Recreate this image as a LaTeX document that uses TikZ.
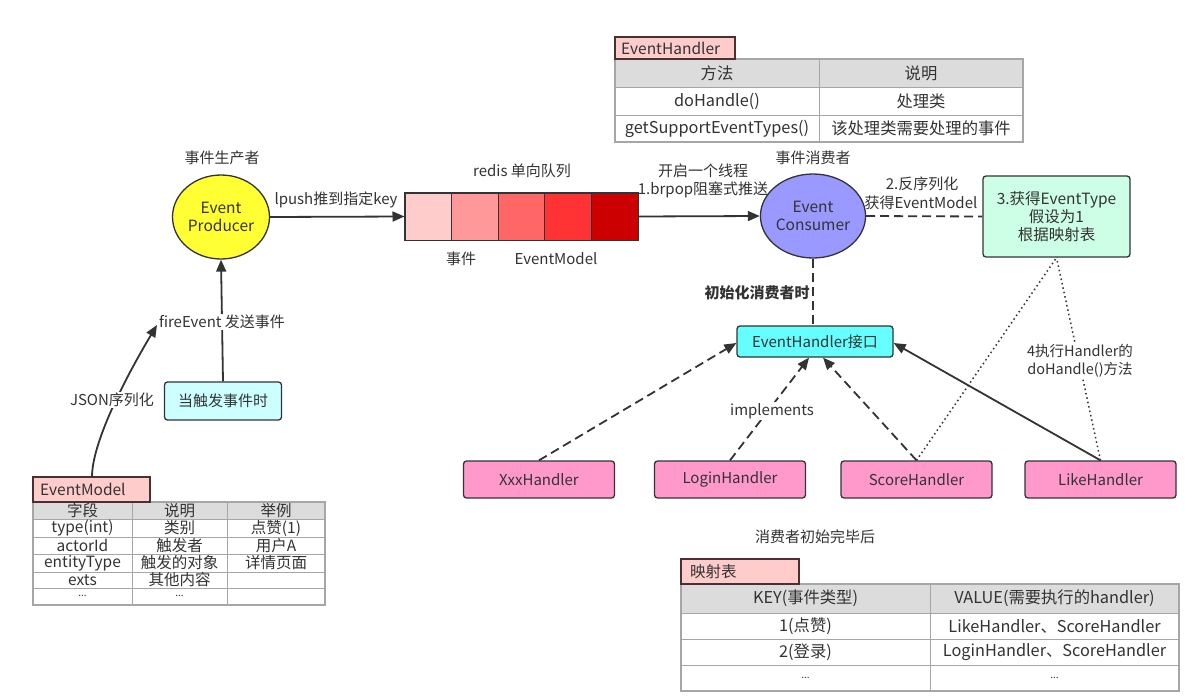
\documentclass[tikz,border=0pt]{standalone}
\usepackage{fontspec}
\setmainfont{Noto Sans CJK SC}
\usetikzlibrary{shapes.geometric,arrows.meta}
\definecolor{txt}{HTML}{333333}
\definecolor{tabpink}{HTML}{FFCCCC}
\definecolor{tabedge}{HTML}{4A3030}
\definecolor{grid}{HTML}{A6A6A6}
\definecolor{hdr}{HTML}{DCDCDC}
\definecolor{prodyel}{HTML}{FFFF33}
\definecolor{consblue}{HTML}{9999FF}
\definecolor{mint}{HTML}{CCFFE6}
\definecolor{cyanbox}{HTML}{66FFFF}
\definecolor{lightcyan}{HTML}{CCFFFF}
\definecolor{hpink}{HTML}{FF99CC}
\definecolor{qa}{HTML}{FFCCCC}
\definecolor{qb}{HTML}{FF9999}
\definecolor{qc}{HTML}{FF6666}
\definecolor{qd}{HTML}{FF3333}
\definecolor{qe}{HTML}{CC0000}
\tikzset{
  lbl/.style={text=txt, inner sep=1pt, align=center},
  wlbl/.style={lbl, fill=white},
  cell/.style={text=txt, inner sep=0pt, font=\fontsize{16.3}{18}\selectfont},
  scell/.style={text=txt, inner sep=0pt, font=\fontsize{15.5}{16}\selectfont},
  tabbox/.style={draw=tabedge, fill=tabpink, line width=1.3pt},
  tabtxt/.style={text=txt, inner sep=0pt, anchor=west, font=\fontsize{15.5}{17}\selectfont},
  outer/.style={draw=grid, line width=1.6pt},
  inner/.style={draw=grid, line width=0.9pt},
  ell/.style={ellipse, draw=txt, line width=1.3pt, minimum width=97, minimum height=84, text=txt, align=center, inner sep=0pt, font=\fontsize{15.5}{18}\selectfont},
  rbox/.style={draw=txt, line width=1.3pt, rounded corners=3pt, text=txt, align=center},
  hbox/.style={rbox, fill=hpink, minimum width=151, minimum height=37},
  qcell/.style={draw=txt, line width=1pt, minimum width=46.6, minimum height=47, inner sep=0pt},
  arr/.style={draw=txt, line width=1.8pt, -{Triangle[length=12pt,width=10pt]}},
  darr/.style={arr, dash pattern=on 9pt off 5pt},
  dln/.style={draw=txt, line width=1.8pt, dash pattern=on 9pt off 5pt},
  dotln/.style={draw=txt, line width=1.5pt, dash pattern=on 1.5pt off 3pt},
}
\begin{document}
\begin{tikzpicture}[x=1pt,y=-1pt, font=\fontsize{15}{17}\selectfont]
\fill[white] (0,0) rectangle (1197,696);
\useasboundingbox (0,0) rectangle (1197,696);

% ---------- EventHandler table ----------
\fill[hdr] (615,59) rectangle (1023,87);
\draw[inner] (615,87) -- (1023,87);
\draw[inner] (615,115) -- (1023,115);
\draw[inner] (819,59) -- (819,142);
\draw[outer] (615,59) rectangle (1023,142);
\draw[tabbox] (615,37) rectangle (735,59);
\node[tabtxt] (ehtab) at (621,48) {EventHandler};
\node[cell] (eh11) at (717,73) {方法};
\node[cell] (eh12) at (921,73) {说明};
\node[cell] (eh21) at (717,101) {doHandle()};
\node[cell] (eh22) at (921,101) {处理类};
\node[cell] (eh31) at (717,128.5) {getSupportEventTypes()};
\node[cell] (eh32) at (921,128.5) {该处理类需要处理的事件};

% ---------- Producer ----------
\node[lbl] (prodlbl) at (222,158) {事件生产者};
\node[ell, fill=prodyel] (prod) at (221,217) {Event\\Producer};

% ---------- Queue ----------
\node[lbl] (qlbl) at (522,171) {redis 单向队列};
\node[qcell, fill=qa] (q1) at (428.3,216.5) {};
\node[qcell, fill=qb] (q2) at (474.9,216.5) {};
\node[qcell, fill=qc] (q3) at (521.5,216.5) {};
\node[qcell, fill=qd] (q4) at (568.1,216.5) {};
\node[qcell, fill=qe] (q5) at (614.7,216.5) {};
\draw[txt, line width=1.6pt] (q1.north west) rectangle (q5.south east);
\node[lbl] (qev) at (461,259) {事件};
\node[lbl] (qem) at (556,259) {EventModel};

\draw[arr] (prod.east) -- (q1.west);
\node[lbl] (lpush) at (336,200) {lpush推到指定key};

% ---------- Consumer ----------
\node[lbl] (conslbl) at (813,158) {事件消费者};
\node[ell, fill=consblue] (cons) at (813,216) {Event\\Consumer};
\draw[arr] (q5.east) -- (cons.west);
\node[lbl] (thr1) at (703,171) {开启一个线程};
\node[lbl] (thr2) at (703,190) {1.brpop阻塞式推送};

% ---------- Green box ----------
\node[rbox, fill=mint, minimum width=147, minimum height=81, font=\fontsize{15.5}{17}\selectfont] (green) at (1056.5,216.5) {3.获得EventType\\[1pt]假设为1\\[1pt]根据映射表};
\draw[dln] (cons.east) -- (green.west);
\node[lbl] (deser1) at (922,184) {2.反序列化};
\node[lbl] (deser2) at (921,203) {获得EventModel};

% ---------- Interface ----------
\node[rbox, fill=cyanbox, minimum width=156, minimum height=31] (iface) at (815,341.5) {EventHandler接口};
\draw[dln] (cons.south) -- (cons.south |- iface.north);
\node[lbl, font=\fontsize{15}{17}\selectfont\bfseries] (initlbl) at (757,293) {初始化消费者时};

% ---------- Handlers ----------
\node[hbox] (xxx) at (539,479.5) {XxxHandler};
\node[hbox] (login) at (730,479.5) {LoginHandler};
\node[hbox] (score) at (916.5,479.5) {ScoreHandler};
\node[hbox] (like) at (1100.5,479.5) {LikeHandler};

\draw[darr] (xxx.north) -- ([yshift=-1.5pt]iface.west);
\draw[darr] (login.north) -- ([xshift=-6pt]iface.south);
\draw[darr] (score.north) -- ([xshift=8pt]iface.south);
\draw[arr] (like.north) -- ([yshift=-1.5pt]iface.east);
\node[wlbl] (impl) at (772,411) {implements};

\draw[dotln] (score.north) -- (green.south);
\draw[dotln] (like.north) -- (green.south);
\node[wlbl, font=\fontsize{14.5}{18}\selectfont] (exec) at (1080,361) {4执行Handler的\\doHandle()方法};

% ---------- fireEvent ----------
\node[rbox, fill=lightcyan, minimum width=117, minimum height=38] (trig) at (223,401) {当触发事件时};
\draw[arr] (trig.north) -- (prod.south);
\node[wlbl] (fire) at (222,322) {fireEvent 发送事件};

% ---------- EventModel table ----------
\fill[hdr] (33,502) rectangle (325,519);
\foreach \yy in {519,537,554,572,588} \draw[inner] (33,\yy) -- (325,\yy);
\draw[inner] (132,502) -- (132,605);
\draw[inner] (227,502) -- (227,605);
\draw[outer] (33,502) rectangle (325,605);
\draw[tabbox] (33,477) rectangle (150,502);
\node[tabtxt] (emtab) at (40,489.5) {EventModel};
\node[scell] (em11) at (82.5,510.5) {字段};
\node[scell] (em12) at (179.5,510.5) {说明};
\node[scell] (em13) at (276,510.5) {举例};
\node[scell] (em21) at (82.5,528) {type(int)};
\node[scell] (em22) at (179.5,528) {类别};
\node[scell] (em23) at (276,528) {点赞(1)};
\node[scell] (em31) at (82.5,545.5) {actorId};
\node[scell] (em32) at (179.5,545.5) {触发者};
\node[scell] (em33) at (276,545.5) {用户A};
\node[scell] (em41) at (82.5,563) {entityType};
\node[scell] (em42) at (179.5,563) {触发的对象};
\node[scell] (em43) at (276,563) {详情页面};
\node[scell] (em51) at (82.5,580) {exts};
\node[scell] (em52) at (179.5,580) {其他内容};
\node[scell, font=\fontsize{10}{12}\selectfont] (em61) at (82.5,596) {...};
\node[scell, font=\fontsize{10}{12}\selectfont] (em62) at (179.5,596) {...};

% JSON curve
\coordinate (jsonstart) at (92,477);
\coordinate (jsonend) at (157,325);
\draw[arr] (jsonstart) .. controls (92,440) and (130,370) .. (jsonend);
\node[wlbl] (json) at (112,400) {JSON序列化};

% ---------- Mapping table ----------
\node[lbl] (after) at (815,537) {消费者初始完毕后};
\fill[hdr] (681,584) rectangle (1179,613);
\draw[inner] (681,613) -- (1179,613);
\draw[inner] (681,639) -- (1179,639);
\draw[inner] (681,665) -- (1179,665);
\draw[inner] (930,584) -- (930,691);
\draw[outer] (681,584) rectangle (1179,691);
\draw[tabbox] (681,559) rectangle (799,584);
\node[tabtxt] (mptab) at (690,571.5) {映射表};
\node[cell] (mp11) at (805.5,598.5) {KEY(事件类型)};
\node[cell] (mp12) at (1054.5,598.5) {VALUE(需要执行的handler)};
\node[cell] (mp21) at (805.5,626) {1(点赞)};
\node[cell] (mp22) at (1054.5,626) {LikeHandler、ScoreHandler};
\node[cell] (mp31) at (805.5,652) {2(登录)};
\node[cell] (mp32) at (1054.5,652) {LoginHandler、ScoreHandler};
\node[cell, font=\fontsize{10}{12}\selectfont] (mp41) at (805.5,678) {...};
\node[cell, font=\fontsize{10}{12}\selectfont] (mp42) at (1054.5,678) {...};
\end{tikzpicture}
\end{document}
